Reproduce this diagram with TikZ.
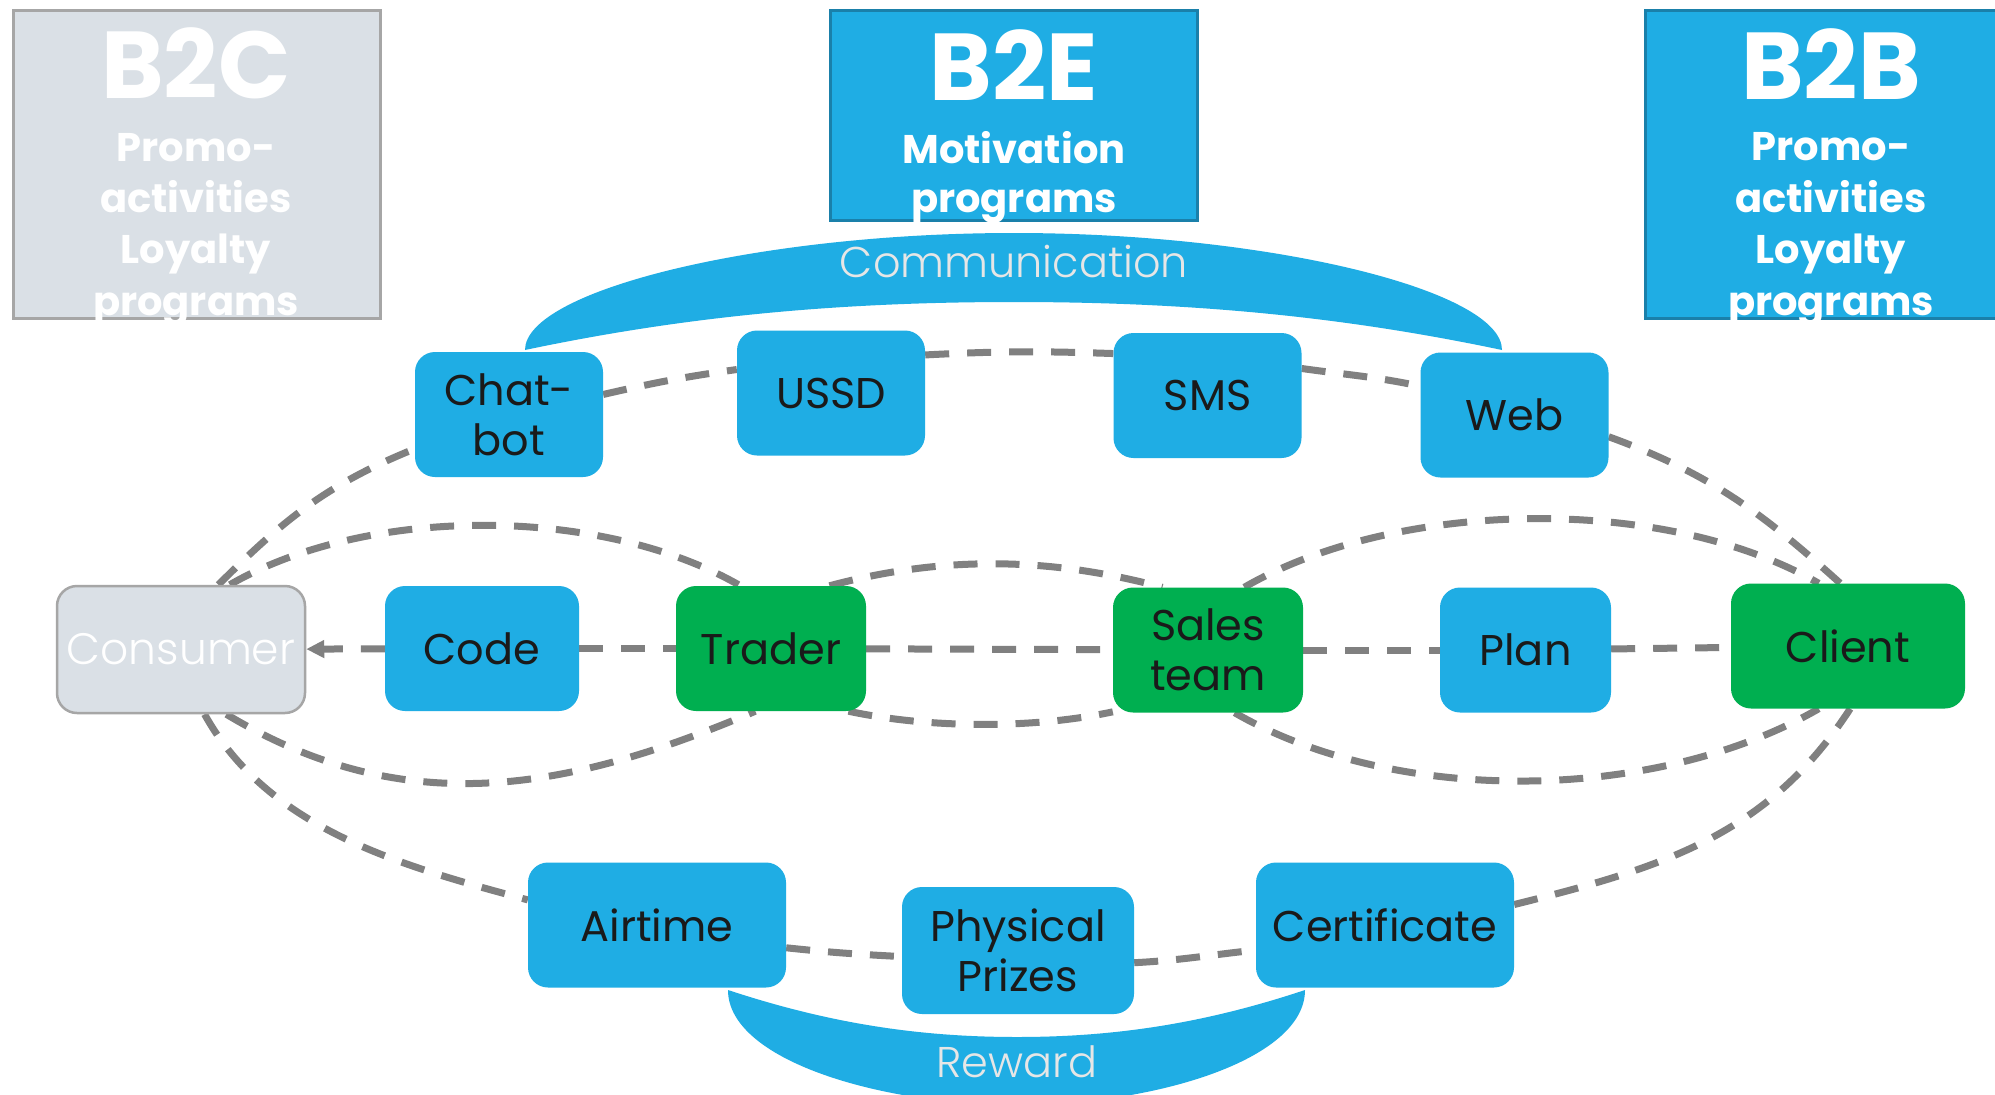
\documentclass[tikz,border=0pt]{standalone}
\usepackage{fontspec}
\setmainfont{Poppins}
\newfontfamily\lightfont{Poppins Light}
\usetikzlibrary{arrows.meta}
\pgfdeclarelayer{bg}
\pgfsetlayers{bg,main}
\definecolor{cblue}{HTML}{1FADE4}
\definecolor{cblueline}{HTML}{1A80AA}
\definecolor{cgreen}{HTML}{00AF50}
\definecolor{cgrayfill}{HTML}{DAE0E6}
\definecolor{cgrayline}{HTML}{A6A6A6}
\definecolor{cdash}{HTML}{808080}
\definecolor{clight}{HTML}{E6E6E6}
\definecolor{ctext}{HTML}{1A1A1A}
\tikzset{
 nbox/.style={rectangle, rounded corners=20pt, inner sep=0pt, minimum width=188pt, minimum height=125pt, align=center, text=ctext, font=\fontsize{43}{50}\selectfont},
 bluebox/.style={nbox, fill=cblue},
 greenbox/.style={nbox, fill=cgreen},
 graybox/.style={nbox, fill=cgrayfill, draw=cgrayline, line width=2.5pt, text=white, font=\lightfont\fontsize{44}{50}\selectfont},
 conn/.style={draw=cdash, line width=7pt, dash pattern=on 24pt off 18pt},
 hdrbig/.style={anchor=base, text=white, font=\bfseries\fontsize{95}{95}\selectfont, inner sep=0pt},
 hdrsmall/.style={anchor=base, text=white, font=\bfseries\fontsize{40}{40}\selectfont, inner sep=0pt},
 band/.style={fill=cblue},
 bandtext/.style={anchor=base, text=clight, font=\lightfont\fontsize{43}{43}\selectfont, inner sep=0pt},
 hdrbox/.style={rectangle, inner sep=0pt, line width=3pt, minimum width=367pt},
}
\begin{document}
\begin{tikzpicture}[x=1pt,y=1pt]
\useasboundingbox (0,0) rectangle (1995,-1095);

% header boxes
\node[hdrbox, draw=cgrayline, fill=cgrayfill, minimum height=308pt] (b2c) at (196.5,-164) {};
\node[hdrbox, draw=cblueline, fill=cblue, minimum height=210pt] (b2e) at (1013.5,-115) {};
\node[hdrbox, draw=cblueline, fill=cblue, minimum height=308pt] (b2b) at (1828.5,-164) {};

\node[hdrbig] (b2ct) at (196,-98) {B2C};
\node[hdrsmall] (b2c1) at (196,-161) {Promo-};
\node[hdrsmall] (b2c2) at (196,-212) {activities};
\node[hdrsmall] (b2c3) at (196,-263) {Loyalty};
\node[hdrsmall] (b2c4) at (196,-315) {programs};

\node[hdrbig] (b2et) at (1014,-100) {B2E};
\node[hdrsmall] (b2e1) at (1014,-163) {Motivation};
\node[hdrsmall] (b2e2) at (1014,-212) {programs};

\node[hdrbig] (b2bt) at (1831,-99) {B2B};
\node[hdrsmall] (b2b1) at (1831,-160) {Promo-};
\node[hdrsmall] (b2b2) at (1831,-212) {activities};
\node[hdrsmall] (b2b3) at (1831,-263) {Loyalty};
\node[hdrsmall] (b2b4) at (1831,-315) {programs};

% bands
\fill[band] (525,-350) .. controls (525,-290) and (760,-233) .. (1014,-233)
  .. controls (1268,-233) and (1502,-290) .. (1502,-350)
  .. controls (1350,-318) and (1200,-302) .. (1014,-302)
  .. controls (828,-302) and (677,-318) .. (525,-350) -- cycle;
\node[bandtext] (comm) at (1014,-277) {Communication};

\fill[band] (728,-990) .. controls (728,-1060) and (880,-1105) .. (1017,-1105)
  .. controls (1154,-1105) and (1305,-1060) .. (1305,-990)
  .. controls (1200,-1025) and (1110,-1037) .. (1017,-1037)
  .. controls (924,-1037) and (834,-1025) .. (728,-990) -- cycle;
\node[bandtext] (rew) at (1017,-1077) {Reward};

% nodes
\node[bluebox] (chatbot) at (509,-414.5) {Chat-\\bot};
\node[bluebox] (ussd) at (831,-393) {USSD};
\node[bluebox] (sms) at (1207.5,-395.5) {SMS};
\node[bluebox] (web) at (1514.5,-415) {Web};
\node[graybox, minimum width=248pt, minimum height=127pt] (consumer) at (181,-649.5) {Consumer};
\node[bluebox, minimum width=194pt] (code) at (482,-648.5) {Code};
\node[greenbox, minimum width=190pt] (trader) at (771,-648.5) {Trader};
\node[greenbox, minimum width=190pt] (sales) at (1208,-650) {Sales\\team};
\node[bluebox, minimum width=171pt] (plan) at (1525.5,-650) {Plan};
\node[greenbox, minimum width=234pt] (client) at (1848,-646) {Client};
\node[bluebox, minimum width=258pt] (airtime) at (657,-925) {Airtime};
\node[bluebox, minimum width=232pt, minimum height=127pt] (pp) at (1018,-950.5) {Physical\\Prizes};
\node[bluebox, minimum width=258pt] (cert) at (1385,-925) {Certificate};

% connectors
\begin{pgfonlayer}{bg}
\fill[white] (0,0) rectangle (1995,-1095);
\draw[conn] (consumer.60) to[out=45,in=202] (chatbot.200);
\draw[conn] (chatbot.12) to[out=13,in=188] (ussd.166);
\draw[conn] (ussd.22) to[out=3,in=178] (sms.156);
\draw[conn] (sms.16) to[out=-8,in=168] (web.163);
\draw[conn] (web.-13) to[out=-20,in=138] (client.97);

\draw[conn] (consumer.-70) to[out=-61,in=165,looseness=0.9] (airtime.169);
\draw[conn] (airtime.-10) to[out=-6,in=177] (pp.183);
\draw[conn] (pp.-6) to[out=3,in=186] (cert.191);
\draw[conn] (cert.9) to[out=14,in=-123] (client.-88);

\draw[conn] (consumer.53) to[out=30,in=150,looseness=0.8] (trader.116);
\draw[conn] (consumer.-55) to[out=-31,in=203] (trader.-104);
\draw[conn] (trader.47) to[out=15,in=165,looseness=0.9] (sales.126);
\draw[conn] (trader.-39) to[out=-12,in=192,looseness=0.8] (sales.213);
\draw[conn] (sales.60) to[out=30,in=150,looseness=0.79] (client.115);
\draw[conn] (sales.-67) to[out=-30,in=210,looseness=0.82] (client.-115);

\draw[conn,-{Triangle[length=18pt,width=17pt]}] (code) -- (consumer);
\draw[conn] (code) -- (trader);
\draw[conn] (trader) -- (sales);
\draw[conn] (sales) -- (plan);
\draw[conn] (plan) -- (client);
\end{pgfonlayer}
\end{tikzpicture}
\end{document}
